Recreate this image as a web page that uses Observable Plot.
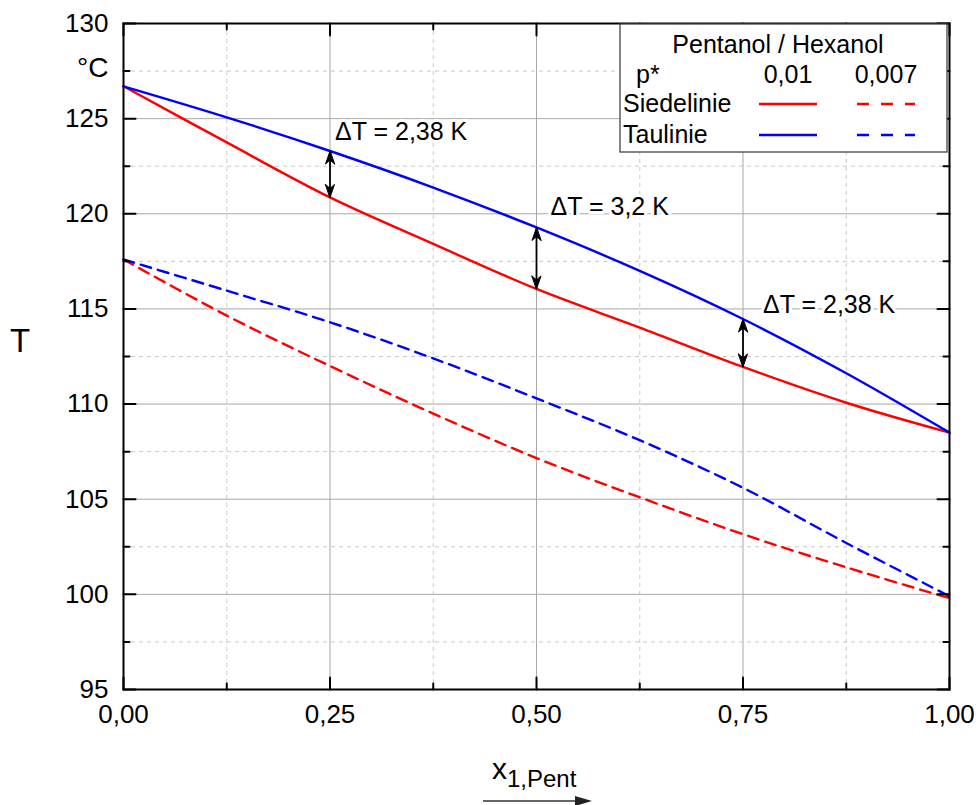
<!DOCTYPE html>
<html><head><meta charset="utf-8">
<script src="https://cdn.jsdelivr.net/npm/d3@7"></script>
<script src="https://cdn.jsdelivr.net/npm/@observablehq/plot@0.6"></script>
<style>
body{margin:0;background:#fff;}
#chart svg{display:block}
</style>
</head><body><div id="chart"></div>
<script>
// ---- data ----
const xValues   = [0, 0.125, 0.25, 0.375, 0.5, 0.625, 0.75, 0.875, 1];
const siede001  = [126.7, 123.75, 120.86, 118.42, 116.05, 114.02, 111.95, 110.07, 108.5];
const tau001    = [126.7, 125.07, 123.3, 121.38, 119.28, 117.0, 114.47, 111.62, 108.5];
const siede0007 = [117.6, 114.65, 112.0, 109.5, 107.16, 105.1, 103.16, 101.42, 99.8];
const tau0007   = [117.6, 115.96, 114.3, 112.4, 110.3, 108.1, 105.6, 102.7, 99.9];

const seriesNames = ["Siedelinie", "Taulinie"];
const pLabels = ["0,01", "0,007"];
const legendTitle = "Pentanol / Hexanol";

const xMajorTicks = [0, 0.25, 0.5, 0.75, 1];
const xMinorTicks = [0.125, 0.375, 0.625, 0.875];
const yMajorTicks = [95, 100, 105, 110, 115, 120, 125, 130];
const yMinorTicks = [97.5, 102.5, 107.5, 112.5, 117.5, 122.5, 127.5];
const yUnitLabel = "°C";

const deltaX = [0.25, 0.5, 0.75];
const deltaLabels = ["ΔT = 2,38 K", "ΔT = 3,2 K", "ΔT = 2,38 K"];

// ---- build tables ----
const seriesDefs = [
  {name: seriesNames[0], p: pLabels[0], values: siede001},
  {name: seriesNames[1], p: pLabels[0], values: tau001},
  {name: seriesNames[0], p: pLabels[1], values: siede0007},
  {name: seriesNames[1], p: pLabels[1], values: tau0007}
];
const colorOf = {Siedelinie: "#ff0000", Taulinie: "#0000ff"};
const dashOf = {"0,01": null, "0,007": "11,7"};

const deltaRows = deltaX.map((x, i) => {
  const k = xValues.indexOf(x);
  const top = tau001[k], bottom = siede001[k];
  return {x, top, bottom, label: deltaLabels[i]};
});

const fmtX = d => d.toFixed(2).replace(".", ",");
const tickShape = {draw(ctx, l) { ctx.moveTo(0, 0); ctx.lineTo(0, -l); }};
const headShape = {draw(ctx) { ctx.moveTo(0, 0); ctx.lineTo(-4.5, 13); ctx.lineTo(0, 9); ctx.lineTo(4.5, 13); ctx.closePath(); }};
const innerMajor = xMajorTicks.filter(d => d > 0 && d < 1);
const innerYMajor = yMajorTicks.filter(d => d > 95 && d < 130);

const lineMarks = seriesDefs.map(s =>
  Plot.line(xValues.map((x, i) => ({x, y: s.values[i]})), {
    x: "x", y: "y", curve: "catmull-rom",
    stroke: colorOf[s.name], strokeWidth: 2.4,
    strokeDasharray: dashOf[s.p]
  })
);

const labelOffsets = [{dx: 5, dy: -19}, {dx: 14, dy: -20}, {dx: 20, dy: -14}];
const labelMarks = deltaRows.map((r, i) =>
  Plot.text([r], {x: "x", y: "top", text: "label", textAnchor: "start",
    dx: labelOffsets[i].dx, dy: labelOffsets[i].dy, fontSize: 25,
    fill: "black", stroke: "white", strokeWidth: 6})
);

const chart = Plot.plot({
  width: 978, height: 805,
  marginLeft: 123, marginRight: 29, marginTop: 23, marginBottom: 116,
  style: {fontFamily: "'Liberation Sans', Arial, sans-serif", background: "white", overflow: "visible"},
  x: {domain: [0, 1]},
  y: {domain: [95, 130]},
  marks: [
    // grid
    Plot.ruleX(xMinorTicks, {stroke: "#c8c8c8", strokeDasharray: "4,4"}),
    Plot.ruleY(yMinorTicks, {stroke: "#c8c8c8", strokeDasharray: "4,4"}),
    Plot.ruleX(innerMajor, {stroke: "#a8a8a8"}),
    Plot.ruleY(innerYMajor, {stroke: "#a8a8a8"}),
    // curves
    ...lineMarks,
    // delta arrows (shaft + filled heads)
    Plot.link(deltaRows, {x1: "x", x2: "x", y1: "bottom", y2: "top", stroke: "black", strokeWidth: 1.8}),
    Plot.vector(deltaRows, {x: "x", y: "top", anchor: "start", length: 13, rotate: 0, shape: headShape, fill: "black", stroke: "black", strokeWidth: 1}),
    Plot.vector(deltaRows, {x: "x", y: "bottom", anchor: "start", length: 13, rotate: 180, shape: headShape, fill: "black", stroke: "black", strokeWidth: 1}),
    ...labelMarks,
    // inward ticks
    Plot.vector(xMajorTicks, {x: d => d, frameAnchor: "bottom", anchor: "start", length: 12, rotate: 0, shape: tickShape, stroke: "black", strokeWidth: 2}),
    Plot.vector(xMinorTicks, {x: d => d, frameAnchor: "bottom", anchor: "start", length: 6, rotate: 0, shape: tickShape, stroke: "black", strokeWidth: 2}),
    Plot.vector(xMajorTicks, {x: d => d, frameAnchor: "top", anchor: "start", length: 12, rotate: 180, shape: tickShape, stroke: "black", strokeWidth: 2}),
    Plot.vector(xMinorTicks, {x: d => d, frameAnchor: "top", anchor: "start", length: 6, rotate: 180, shape: tickShape, stroke: "black", strokeWidth: 2}),
    Plot.vector(yMajorTicks, {y: d => d, frameAnchor: "left", anchor: "start", length: 12, rotate: 90, shape: tickShape, stroke: "black", strokeWidth: 2}),
    Plot.vector(yMinorTicks, {y: d => d, frameAnchor: "left", anchor: "start", length: 6, rotate: 90, shape: tickShape, stroke: "black", strokeWidth: 2}),
    Plot.vector(yMajorTicks, {y: d => d, frameAnchor: "right", anchor: "start", length: 12, rotate: -90, shape: tickShape, stroke: "black", strokeWidth: 2}),
    Plot.vector(yMinorTicks, {y: d => d, frameAnchor: "right", anchor: "start", length: 6, rotate: -90, shape: tickShape, stroke: "black", strokeWidth: 2}),
    Plot.frame({stroke: "black", strokeWidth: 2}),
    // axes labels
    Plot.axisX({ticks: xMajorTicks, tickSize: 0, tickPadding: 15, tickFormat: fmtX, fontSize: 26, label: null}),
    Plot.axisY({ticks: yMajorTicks, tickSize: 0, tickPadding: 15, tickFormat: d => String(d), fontSize: 26, label: null}),
    Plot.axisY({ticks: [yMinorTicks[yMinorTicks.length - 1]], tickSize: 0, tickPadding: 15, tickFormat: () => yUnitLabel, fontSize: 28, dy: -3, label: null})
  ]
});
document.getElementById("chart").appendChild(chart);

// ---- legend, axis titles ----
const svg = d3.select(chart);
const ff = "'Liberation Sans', Arial, sans-serif";
const lg = svg.append("g").attr("font-family", ff).attr("font-size", 25).attr("fill", "black").attr("text-anchor", "start");
lg.append("rect").attr("x", 620).attr("y", 24).attr("width", 327).attr("height", 128)
  .attr("fill", "white").attr("stroke", "#444").attr("stroke-width", 1.3);
lg.append("text").attr("x", 778).attr("y", 53).attr("text-anchor", "middle").text(legendTitle);
lg.append("text").attr("x", 636).attr("y", 83).text("p*");
const colX = [788, 886];
pLabels.forEach((p, j) => lg.append("text").attr("x", colX[j]).attr("y", 83).attr("text-anchor", "middle").text(p));
const rowY = [104, 135];
seriesNames.forEach((n, i) => {
  lg.append("text").attr("x", 623).attr("y", rowY[i] + 8).text(n);
  pLabels.forEach((p, j) => {
    lg.append("line").attr("x1", colX[j] - 29).attr("x2", colX[j] + 29)
      .attr("y1", rowY[i]).attr("y2", rowY[i])
      .attr("stroke", colorOf[n]).attr("stroke-width", 2.4)
      .attr("stroke-dasharray", dashOf[p] ? "12,12" : null);
  });
});

// y title
svg.append("text").attr("x", 10).attr("y", 352).attr("text-anchor", "start").attr("font-family", ff).attr("font-size", 33).text("T");
// x title with subscript
const xt = svg.append("text").attr("x", 492).attr("y", 779).attr("text-anchor", "start").attr("font-family", ff).attr("font-size", 30);
xt.append("tspan").text("x");
xt.append("tspan").attr("font-size", 24).attr("dy", 8).text("1,Pent");
// arrow under x title
svg.append("line").attr("x1", 483).attr("x2", 578).attr("y1", 801).attr("y2", 801).attr("stroke", "#333").attr("stroke-width", 1.3);
svg.append("path").attr("d", "M592,801 L575,796 L575,806 Z").attr("fill", "#222");
</script>
</body></html>
